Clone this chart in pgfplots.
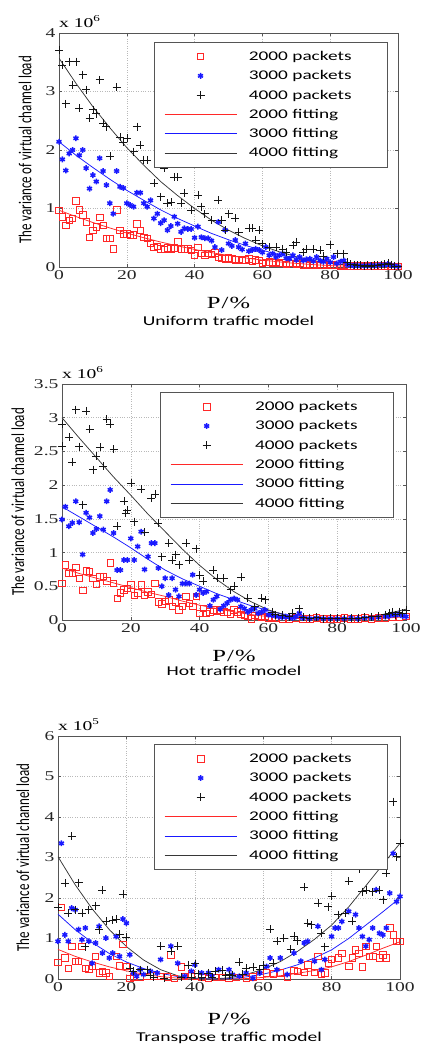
\documentclass[border=0pt]{standalone}
\usepackage{fontspec}
\setmainfont{Liberation Serif}
\newfontfamily\tickfont[FakeStretch=1.45]{Liberation Serif}
\newfontfamily\sansw[FakeStretch=1.45]{Carlito}
\newfontfamily\sansn{Carlito}
\usepackage{graphicx}
\usepackage{pgfplots}
\pgfplotsset{compat=1.18}
\definecolor{cred}{RGB}{255,40,40}
\definecolor{cblue}{RGB}{25,25,255}
\definecolor{cblk}{RGB}{20,20,20}
\definecolor{cfit}{RGB}{55,55,55}
\definecolor{cframe}{RGB}{85,85,85}
\pgfplotsset{
 markleg/.style={legend image code/.code={\draw[##1,mark repeat=2,mark phase=2] plot coordinates {(0pt,0pt) (36pt,0pt) (72pt,0pt)};}},
 lineleg/.style={legend image code/.code={\draw[##1] (0pt,0pt) -- (72pt,0pt);}},
 sR/.style={only marks, mark=square, mark size=3.2pt, color=cred, line width=0.65pt, markleg},
 sB/.style={only marks, mark=asterisk, mark size=2.9pt, color=cblue, line width=1.5pt, markleg},
 sK/.style={only marks, mark=+, mark size=4pt, color=cblk, line width=0.6pt, markleg},
 fR/.style={no marks, color=cred, line width=0.75pt, lineleg},
 fB/.style={no marks, color=cblue, line width=0.75pt, lineleg},
 fK/.style={no marks, color=cfit, line width=0.75pt, lineleg},
 xten/.style={extra description/.code={\node[anchor=south west, font=\tickfont\fontsize{13.5}{14}\selectfont, inner sep=0pt] at (0,1) [yshift=5pt] {x 10\raisebox{6pt}{\fontsize{9}{9}\selectfont #1}};}},
 base/.style={scale only axis, xmin=0, xmax=100, xtick={0,20,...,100}, ymin=0,
  grid=major, grid style={dotted, gray!55, line width=0.45pt},
  axis line style={cframe, line width=0.6pt},
  tick align=inside, major tick length=3pt, tick style={cframe, line width=0.5pt},
  /pgf/number format/assume math mode=true,
  ticklabel style={font=\tickfont\fontsize{13.5}{14}\selectfont, text=black!85},
  xlabel={P\kern1pt/\kern1pt\%},
  xlabel style={font=\tickfont\fontsize{17}{18}\selectfont, at={(axis description cs:0.5,0)}, anchor=center},
  ylabel={\sansn\fontsize{13}{14}\selectfont\scalebox{1}[1.4]{The variance of virtual channel load}},
  title style={font=\sansw\fontsize{13.5}{14}\selectfont, at={(axis description cs:0.5,0)}, anchor=center},
  legend cell align=left,
  legend style={anchor=north east, draw=cframe, line width=0.6pt, fill=white, font=\sansw\fontsize{13.3}{14}\selectfont, row sep=4.6pt, column sep=10pt, inner xsep=10pt, inner ysep=7pt},
 },
}
\begin{document}
\begin{tikzpicture}
\path[use as bounding box] (0pt,0pt) rectangle (421pt,1044pt);
% ---------------- Uniform
\begin{axis}[base, xten=6, at={(59pt,777pt)}, anchor=south west, width=339pt, height=234pt,
 ymax=4, ytick={0,1,2,3,4},
 ylabel style={at={(axis description cs:-0.100,0.5)}, anchor=center},
 xlabel style={yshift=-36pt},
 title={Uniform traffic model}, title style={yshift=-60pt},
 legend style={at={(axis description cs:0.970,0.962)}}]
\addplot[sR] table[row sep=\\]{0 .97\\1 .86\\2 .71\\3 .80\\4 .83\\5 1.13\\6 .98\\7 .89\\8 .77\\9 .51\\10 .63\\11 .69\\12 .85\\13 .71\\14 .49\\15 .49\\16 .31\\17 .98\\18 .63\\19 .57\\20 .57\\21 .54\\22 .55\\23 .74\\24 .63\\25 .51\\26 .49\\27 .40\\28 .34\\29 .35\\30 .31\\31 .30\\32 .33\\33 .31\\34 .33\\35 .43\\36 .31\\37 .31\\38 .31\\39 .28\\40 .20\\41 .34\\42 .23\\43 .20\\44 .23\\45 .22\\46 .24\\47 .17\\48 .15\\49 .14\\50 .16\\51 .14\\52 .12\\53 .13\\54 .11\\55 .12\\56 .14\\57 .10\\58 .12\\59 .11\\60 .06\\61 .08\\62 .09\\63 .07\\64 .08\\65 .06\\66 .07\\67 .05\\68 .06\\69 .06\\70 .05\\71 .06\\72 .04\\73 .05\\74 .03\\75 .04\\76 .05\\77 .03\\78 .04\\79 .05\\80 .03\\81 .04\\82 .03\\83 .02\\84 .03\\85 .02\\86 .02\\87 .01\\88 .02\\89 .02\\90 .01\\91 .02\\92 .01\\93 .02\\94 .02\\95 .01\\96 .02\\97 .02\\98 .01\\99 .01\\100 .01\\};
\addlegendentry{2000 packets\hspace*{24pt}}
\addplot[sB] table[row sep=\\]{0 2.14\\1 1.84\\2 1.65\\3 1.94\\4 2.00\\5 2.20\\6 1.91\\7 2.00\\8 1.69\\9 1.34\\10 1.57\\11 1.46\\12 1.86\\13 1.64\\14 1.40\\15 1.09\\16 .91\\17 1.64\\18 1.37\\19 1.35\\20 1.09\\21 1.06\\22 1.03\\23 1.27\\24 1.27\\25 1.09\\26 1.03\\27 1.14\\28 .83\\29 .91\\30 .75\\31 .80\\32 .63\\33 .70\\34 .86\\35 .74\\36 .60\\37 .66\\38 .65\\39 .65\\40 .50\\41 .69\\42 .51\\43 .49\\44 .49\\45 .45\\46 .34\\47 .77\\48 .29\\49 .63\\50 .40\\51 .36\\52 .46\\53 .34\\54 .30\\55 .40\\56 .27\\57 .29\\58 .31\\59 .29\\60 .25\\61 .34\\62 .20\\63 .23\\64 .17\\65 .20\\66 .23\\67 .15\\68 .14\\69 .20\\70 .12\\71 .17\\72 .11\\73 .13\\74 .14\\75 .10\\76 .17\\77 .11\\78 .09\\79 .14\\80 .08\\81 .17\\82 .06\\83 .09\\84 .11\\85 .04\\86 .03\\87 .02\\88 .03\\89 .02\\90 .02\\91 .02\\92 .03\\93 .02\\94 .03\\95 .04\\96 .03\\97 .05\\98 .03\\99 .02\\100 .01\\};
\addlegendentry{3000 packets}
\addplot[sK] table[row sep=\\]{0 3.71\\1 3.45\\2 2.79\\3 3.51\\4 3.11\\5 3.51\\6 2.71\\7 3.29\\8 3.03\\9 2.54\\10 2.69\\11 2.62\\12 3.20\\13 2.46\\14 2.40\\15 1.89\\17 3.07\\18 2.22\\19 2.14\\20 2.20\\22 1.97\\23 2.40\\24 2.08\\25 1.83\\26 1.83\\28 1.43\\30 1.20\\31 1.69\\32 1.09\\33 1.11\\34 1.54\\35 1.54\\36 1.09\\37 1.26\\39 .97\\41 1.23\\42 1.03\\43 .91\\45 .80\\47 1.14\\48 .80\\49 .63\\50 .91\\52 .83\\53 .60\\56 .66\\57 .66\\58 .46\\59 .63\\60 .40\\62 .34\\64 .34\\66 .31\\67 .25\\69 .37\\70 .43\\72 .25\\73 .30\\75 .30\\77 .29\\78 .18\\80 .38\\82 .23\\84 .23\\85 .08\\86 .05\\87 .04\\88 .03\\89 .03\\90 .02\\91 .03\\92 .02\\93 .03\\94 .03\\95 .04\\96 .05\\97 .07\\98 .04\\99 .02\\100 .01\\};
\addlegendentry{4000 packets}
\addplot[fR] table[row sep=\\]{0 .97\\5 .862\\10 .76\\15 .667\\20 .58\\25 .50\\30 .427\\35 .36\\40 .30\\45 .245\\50 .197\\55 .155\\60 .118\\65 .087\\70 .061\\75 .040\\80 .024\\85 .012\\90 .005\\95 .001\\100 0\\};
\addlegendentry{2000 fitting}
\addplot[fB] table[row sep=\\]{0 2.14\\5 1.91\\10 1.70\\15 1.50\\20 1.31\\25 1.14\\30 .976\\35 .83\\40 .70\\45 .574\\50 .466\\55 .369\\60 .285\\65 .213\\70 .151\\75 .101\\80 .062\\85 .033\\90 .0135\\95 .003\\100 0\\};
\addlegendentry{3000 fitting}
\addplot[fK] table[row sep=\\]{0 3.57\\5 3.14\\10 2.74\\15 2.38\\20 2.04\\25 1.74\\30 1.46\\35 1.22\\40 1.00\\45 .80\\50 .63\\55 .486\\60 .361\\65 .259\\70 .176\\75 .112\\80 .064\\85 .031\\90 .011\\95 .002\\100 0\\};
\addlegendentry{4000 fitting}
\end{axis}
% ---------------- Hot
\begin{axis}[base, xten=6, at={(62pt,424pt)}, anchor=south west, width=344pt, height=236pt,
 ymax=3.5, ytick={0,0.5,...,3.5},
 ylabel style={at={(axis description cs:-0.128,0.5)}, anchor=center},
 xlabel style={yshift=-36pt},
 title={Hot traffic model}, title style={yshift=-57pt},
 legend style={at={(axis description cs:0.965,0.966)}}]
\addplot[sR] table[row sep=\\]{0 .54\\1 .82\\2 .69\\3 .70\\4 .78\\5 .62\\6 .44\\7 .73\\8 .72\\9 .62\\10 .53\\11 .64\\12 .65\\13 .58\\14 .85\\15 .54\\16 .32\\17 .40\\18 .45\\19 .47\\20 .52\\21 .37\\22 .40\\23 .52\\24 .37\\25 .42\\26 .38\\27 .54\\28 .27\\29 .24\\30 .28\\31 .30\\32 .20\\33 .27\\34 .15\\35 .20\\36 .35\\37 .25\\38 .20\\39 .35\\40 .10\\41 .17\\42 .10\\43 .12\\44 .15\\45 .13\\46 .15\\47 .12\\48 .11\\49 .09\\50 .15\\51 .12\\52 .08\\53 .07\\54 .06\\55 .02\\56 .07\\57 .05\\58 .04\\59 .05\\60 .03\\61 .04\\62 .03\\64 .02\\66 .02\\68 .03\\70 .02\\72 .02\\74 .03\\76 .02\\78 .02\\80 .02\\82 .03\\84 .02\\86 .02\\88 .03\\90 .02\\92 .03\\94 .03\\96 .04\\98 .04\\100 .05\\};
\addlegendentry{2000 packets\hspace*{24pt}}
\addplot[sB] table[row sep=\\]{0 1.49\\1 1.68\\2 1.39\\3 1.44\\4 1.76\\5 1.45\\6 .97\\7 1.59\\8 1.52\\9 1.29\\10 1.35\\11 1.54\\12 1.34\\13 1.76\\14 1.93\\15 1.29\\16 .74\\17 .74\\18 .89\\19 .89\\20 1.21\\21 .89\\22 1.09\\23 1.31\\24 .75\\25 .94\\26 1.14\\27 1.14\\28 .77\\29 .50\\30 .62\\31 .37\\32 .62\\33 .45\\34 .35\\35 .54\\36 .54\\37 .54\\38 .67\\39 .37\\40 .45\\41 .40\\42 .42\\43 .21\\44 .30\\45 .35\\46 .16\\47 .21\\48 .25\\49 .30\\50 .32\\51 .30\\52 .20\\53 .17\\54 .12\\55 .15\\56 .17\\57 .10\\58 .12\\59 .15\\60 .08\\61 .07\\62 .06\\63 .05\\64 .04\\65 .05\\66 .04\\67 .03\\68 .05\\69 .10\\70 .03\\72 .02\\74 .03\\76 .02\\78 .02\\80 .02\\82 .02\\84 .03\\86 .02\\88 .03\\90 .03\\92 .04\\94 .05\\95 .06\\96 .08\\97 .07\\98 .09\\99 .06\\100 .05\\};
\addlegendentry{3000 packets}
\addplot[sK] table[row sep=\\]{0 2.90\\0 2.58\\2 2.71\\3 2.34\\4 3.12\\5 2.57\\6 1.71\\7 3.10\\8 2.83\\9 2.23\\10 2.43\\11 2.56\\12 2.28\\13 2.98\\14 2.90\\15 2.53\\16 1.39\\18 1.76\\18.5 1.58\\19 1.63\\20 2.03\\21 1.46\\23 1.94\\24 1.30\\26 1.81\\27 1.87\\28 1.44\\29 .94\\31 1.14\\32 .89\\33 .97\\34 .82\\36 1.14\\37 .89\\39 1.06\\40 .67\\41 .58\\44 .74\\45 .62\\47 .62\\49 .45\\50 .50\\52 .64\\54 .32\\56 .20\\58 .32\\59 .30\\61 .12\\62 .08\\64 .07\\66 .05\\67 .10\\69 .17\\70 .04\\72 .03\\74 .04\\76 .02\\78 .03\\80 .03\\82 .02\\84 .03\\86 .03\\88 .04\\90 .05\\92 .06\\94 .08\\95 .10\\96 .12\\97 .08\\98 .12\\99 .10\\100 .15\\};
\addlegendentry{4000 packets}
\addplot[fR] table[row sep=\\]{0 .77\\5 .69\\10 .62\\15 .55\\20 .48\\25 .41\\30 .35\\35 .28\\40 .22\\45 .17\\50 .12\\55 .08\\60 .05\\65 .03\\70 .02\\75 .01\\80 .01\\85 .01\\90 .02\\95 .03\\100 .05\\};
\addlegendentry{2000 fitting}
\addplot[fB] table[row sep=\\]{0 1.68\\5 1.53\\10 1.38\\15 1.23\\20 1.07\\25 .90\\30 .74\\35 .61\\40 .50\\45 .39\\50 .30\\55 .21\\60 .14\\65 .08\\70 .05\\75 .03\\80 .02\\85 .02\\90 .04\\95 .06\\100 .10\\};
\addlegendentry{3000 fitting}
\addplot[fK] table[row sep=\\]{0 3.00\\5 2.70\\10 2.41\\15 2.12\\20 1.85\\25 1.57\\30 1.31\\35 1.05\\40 .81\\45 .60\\50 .42\\55 .27\\60 .15\\65 .07\\70 .03\\75 .01\\80 .01\\85 .02\\90 .05\\95 .10\\100 .16\\};
\addlegendentry{4000 fitting}
\end{axis}
% ---------------- Transpose
\begin{axis}[base, xten=5, at={(58pt,65pt)}, anchor=south west, width=342pt, height=243pt,
 ymax=6, ytick={0,1,...,6},
 ylabel style={at={(axis description cs:-0.103,0.5)}, anchor=center},
 xlabel style={yshift=-40pt},
 title={Transpose traffic model}, title style={yshift=-65pt},
 legend style={at={(axis description cs:0.965,0.967)}}]
\addplot[sR] table[row sep=\\]{0 .41\\1 1.77\\2 .52\\3 .27\\4 .81\\5 .44\\6 .44\\7 .81\\8 .27\\9 .25\\10 .33\\11 .56\\12 .15\\13 .19\\14 .15\\15 .07\\17 .56\\18 .33\\19 .85\\20 .31\\21 .02\\22 .05\\24 .04\\26 .07\\28 .08\\30 .07\\32 .05\\33 .60\\34 .02\\36 .30\\37 .07\\39 .13\\40 .07\\42 .04\\44 .02\\46 .04\\48 .04\\50 .02\\52 .04\\55 .02\\57 .05\\59 .08\\61 .15\\63 .13\\65 .15\\67 .04\\69 .21\\70 .19\\72 .16\\73 .35\\75 .16\\76 .56\\77 .11\\78 .15\\79 .39\\80 .48\\82 .52\\83 .64\\85 .31\\86 .52\\87 .72\\88 .64\\89 .30\\90 .81\\91 .56\\92 .56\\93 .81\\94 .52\\95 .60\\96 .52\\97 1.26\\98 1.09\\99 .93\\100 .93\\};
\addlegendentry{2000 packets\hspace*{24pt}}
\addplot[sB] table[row sep=\\]{0 .93\\1 3.35\\2 1.09\\3 .93\\4 1.75\\5 1.71\\6 1.22\\7 .97\\8 1.26\\9 .93\\10 .39\\11 .89\\12 1.30\\13 .64\\14 1.01\\15 .52\\16 .64\\17 1.05\\18 .56\\19 1.48\\20 1.38\\21 .60\\22 .15\\23 .07\\24 .23\\25 .11\\27 .19\\29 .15\\30 .48\\33 .81\\35 .39\\37 .07\\39 .19\\40 .35\\42 .15\\44 .15\\45 .07\\47 .23\\50 .23\\51 .11\\53 .07\\55 .15\\57 .02\\59 .15\\61 .31\\62 .52\\64 .23\\65 .52\\67 .11\\69 .64\\71 .44\\72 .89\\73 .93\\75 .44\\76 1.30\\77 .23\\78 .48\\80 1.05\\81 1.26\\82 1.26\\83 1.42\\85 1.67\\87 1.59\\88 1.26\\89 1.05\\90 .81\\91 .97\\92 1.26\\93 2.20\\94 1.13\\95 1.09\\96 1.26\\97 2.12\\98 3.10\\99 1.91\\100 2.04\\};
\addlegendentry{3000 packets}
\addplot[sK] table[row sep=\\]{0 1.77\\2 2.37\\3 1.63\\4 3.53\\5 1.71\\6 2.38\\7 1.63\\8 .80\\9 1.71\\11 1.81\\12 1.22\\13 2.19\\14 1.42\\16 1.46\\17 1.48\\18 1.10\\19 2.10\\20 1.04\\21 .27\\22 .19\\24 .23\\26 .23\\27 .10\\28 .04\\30 .81\\31 .02\\33 .68\\35 .81\\36 .05\\38 .35\\39 .05\\40 .38\\41 .13\\42 .05\\44 .15\\45 .05\\46 .19\\48 .21\\49 .08\\50 .11\\51 .10\\53 .41\\54 .12\\55 .27\\57 .30\\59 .23\\60 .35\\62 1.23\\63 .39\\64 .93\\66 1.01\\68 .74\\69 1.05\\70 .95\\72 2.27\\73 1.38\\74 1.34\\76 1.87\\77 1.13\\78 .80\\79 1.79\\80 2.04\\82 1.59\\84 1.63\\85 2.41\\86 1.42\\88 2.71\\89 2.16\\90 2.20\\92 2.16\\94 2.20\\95 1.96\\96 2.61\\98 4.38\\99 3.02\\100 3.35\\};
\addlegendentry{4000 packets}
\addplot[fR] table[row sep=\\]{0 .73\\5 .56\\10 .42\\15 .30\\20 .20\\25 .12\\30 .06\\35 .02\\40 0\\45 0\\50 0\\55 .01\\60 .04\\65 .08\\70 .14\\75 .21\\80 .30\\85 .43\\90 .59\\95 .76\\100 .92\\};
\addlegendentry{2000 fitting}
\addplot[fB] table[row sep=\\]{0 1.60\\5 1.22\\10 .90\\15 .63\\20 .42\\25 .26\\30 .14\\35 .06\\40 .02\\45 0\\50 .01\\55 .05\\60 .12\\65 .22\\70 .35\\75 .52\\80 .72\\85 1.00\\90 1.33\\95 1.66\\100 2.00\\};
\addlegendentry{3000 fitting}
\addplot[fK] table[row sep=\\]{0 3.02\\5 2.33\\10 1.73\\15 1.22\\20 .80\\25 .47\\30 .23\\35 .08\\40 .01\\45 0\\50 .03\\55 .11\\60 .24\\65 .43\\70 .68\\75 .98\\80 1.33\\85 1.78\\90 2.30\\95 2.83\\100 3.35\\};
\addlegendentry{4000 fitting}
\end{axis}
\end{tikzpicture}
\end{document}
